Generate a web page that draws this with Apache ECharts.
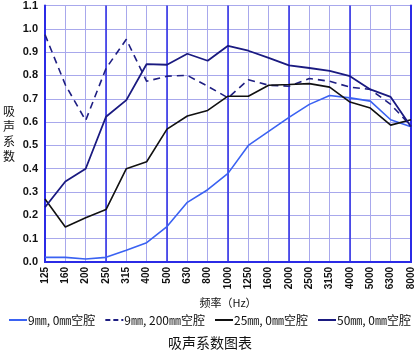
<!DOCTYPE html>
<html><head><meta charset="utf-8">
<script src="https://cdn.jsdelivr.net/npm/echarts@6/dist/echarts.min.js"></script>
<style>html,body{margin:0;padding:0;background:#fff}#c{width:420px;height:355px}</style>
</head><body><div id="c"></div>
<script>
const categories = ['125','160','200','250','315','400','500','630','800','1000','1250','1600','2000','2500','3150','4000','5000','6300','8000'];
const names = ['9㎜, 0㎜空腔','9㎜, 200㎜空腔','25㎜, 0㎜空腔','50㎜, 0㎜空腔'];
const s9_0   = [0.02,0.02,0.013,0.02,0.05,0.083,0.152,0.256,0.31,0.38,0.50,0.56,0.62,0.676,0.714,0.704,0.69,0.61,0.58];
const s9_200 = [0.975,0.76,0.607,0.83,0.955,0.775,0.797,0.80,0.754,0.704,0.782,0.758,0.754,0.787,0.775,0.75,0.74,0.676,0.583];
const s25_0  = [0.27,0.15,0.19,0.225,0.40,0.43,0.57,0.626,0.65,0.711,0.711,0.758,0.761,0.765,0.75,0.686,0.66,0.587,0.61];
const s50_0  = [0.235,0.345,0.40,0.623,0.694,0.849,0.846,0.893,0.863,0.927,0.906,0.875,0.843,0.832,0.82,0.797,0.74,0.708,0.58];
const yLabels = { min: 0, max: 1.1, step: 0.1 };

const chart = echarts.init(document.getElementById('c'));
const font = 'Liberation Sans, Arial, sans-serif';
const minor = '#a8a8ec', major = '#2b2be6';
const solidIcon = 'path://M0 0 L18 0 L18 2 L0 2 Z';
const dashIcon = 'path://M0 0 L5 0 L5 2 L0 2 Z M8 0 L13 0 L13 2 L8 2 Z M16 0 L18 0 L18 2 L16 2 Z';
chart.setOption({
  animation: false,
  title: { text: '吸声系数图表', left: 'center', bottom: 0, textStyle: { fontSize: 14, fontWeight: 'normal', color: '#111', fontFamily: 'Noto Sans CJK SC' } },
  legend: {
    bottom: 24, left: 'center', itemGap: 10, itemWidth: 18, itemHeight: 2,
    textStyle: { fontSize: 12, color: '#111', fontFamily: 'Noto Sans CJK SC', padding: [0,0,0,-4] },
    data: [
      { name: names[0], icon: solidIcon },
      { name: names[1], icon: dashIcon },
      { name: names[2], icon: solidIcon },
      { name: names[3], icon: solidIcon }
    ]
  },
  grid: { left: 43, right: 9, top: 4, bottom: 93 },
  xAxis: [{
    type: 'category', data: categories, boundaryGap: false,
    name: '频率（Hz）', nameLocation: 'middle', nameGap: 29,
    nameTextStyle: { fontSize: 11, color: '#111', fontFamily: 'Noto Sans CJK SC' },
    axisLine: { lineStyle: { color: major, width: 2 } }, axisTick: { show: false },
    axisLabel: { rotate: 90, fontSize: 10, fontWeight: 'bold', color: '#111', fontFamily: font, margin: 5, interval: 0 },
    splitLine: { show: true, interval: 0, lineStyle: { color: minor, width: 1 } }
  },{
    type: 'category', data: categories, boundaryGap: false, position: 'top',
    axisLine: { lineStyle: { color: major, width: 2 } }, axisTick: { show: false }, axisLabel: { show: false },
    splitLine: { show: true, interval: (i) => i % 3 === 0, lineStyle: { color: major, width: 1.5 } }
  }],
  yAxis: [{
    type: 'value', min: yLabels.min, max: yLabels.max, interval: yLabels.step,
    name: '吸\n声\n系\n数', nameLocation: 'middle', nameRotate: 0, nameGap: 30,
    nameTextStyle: { fontSize: 12, color: '#111', fontFamily: 'Noto Sans CJK SC', lineHeight: 15 },
    axisLine: { show: true, lineStyle: { color: major, width: 2 } }, axisTick: { show: false },
    axisLabel: { fontSize: 11, fontWeight: 'bold', color: '#111', fontFamily: font, margin: 7, formatter: v => v.toFixed(1) },
    splitLine: { lineStyle: { color: minor, width: 1 } }
  },{
    type: 'value', min: yLabels.min, max: yLabels.max, interval: yLabels.step, position: 'right',
    axisLine: { show: true, lineStyle: { color: major, width: 2 } }, axisTick: { show: false }, axisLabel: { show: false },
    splitLine: { show: false }
  }],
  series: [
    { name: names[0], type: 'line', data: s9_0, symbol: 'none', lineStyle: { color: '#3a62f2', width: 1.6 }, itemStyle: { color: '#3a62f2' } },
    { name: names[1], type: 'line', data: s9_200, symbol: 'none', lineStyle: { color: '#1e1e82', width: 1.6, type: [7, 5] }, itemStyle: { color: '#1e1e82' } },
    { name: names[2], type: 'line', data: s25_0, symbol: 'none', lineStyle: { color: '#111', width: 1.6 }, itemStyle: { color: '#111' } },
    { name: names[3], type: 'line', data: s50_0, symbol: 'none', lineStyle: { color: '#1a1a80', width: 1.8 }, itemStyle: { color: '#1a1a80' } }
  ]
});
</script></body></html>
